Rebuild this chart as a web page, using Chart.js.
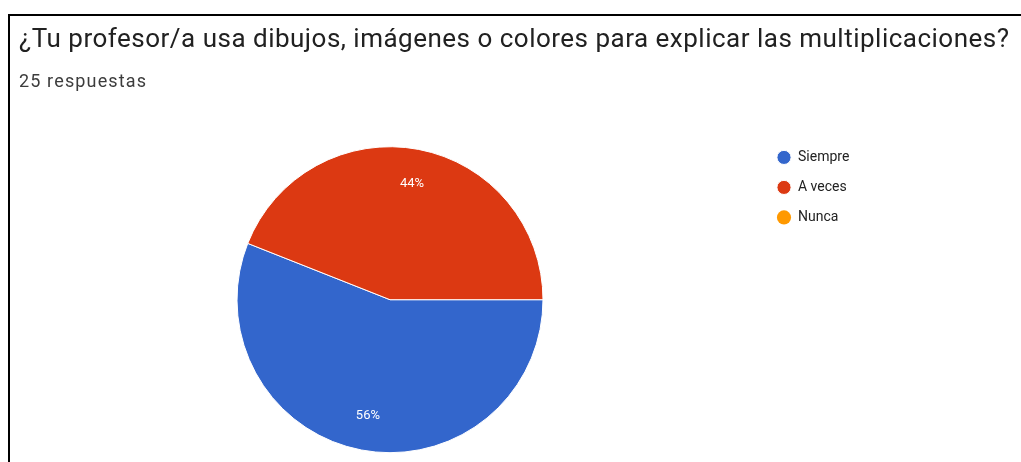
<!DOCTYPE html>
<html>
<head>
<meta charset="utf-8">
<script src="https://cdn.jsdelivr.net/npm/chart.js@4"></script>
<style>
    html, body { margin: 0; padding: 0; background: #fff; overflow: hidden; }
    #frame { position: absolute; left: 8px; top: 14px; width: 1100px; height: 600px; border: 2px solid #000; }
    #wrap { position: absolute; left: 0; top: 0; width: 1021px; height: 470px; }
</style>
</head>
<body>
<div id="frame"></div>
<div id="wrap"><canvas id="pieChart"></canvas></div>
<script>
var titleText = "¿Tu profesor/a usa dibujos, imágenes o colores para explicar las multiplicaciones?";
var subtitleText = "25 respuestas";
var labels = ["Siempre", "A veces", "Nunca"];
var counts = [14, 11, 0];
var colors = ["#3366cc", "#dc3912", "#ff9900"];

// percent labels inside the slices
var sliceLabels = {
    id: "sliceLabels",
    afterDatasetsDraw: function (chart) {
        var ctx = chart.ctx;
        var meta = chart.getDatasetMeta(0);
        var total = counts.reduce(function (a, b) { return a + b; }, 0);
        ctx.save();
        ctx.fillStyle = "#ffffff";
        ctx.font = "13px Roboto";
        ctx.textAlign = "center";
        ctx.textBaseline = "middle";
        meta.data.forEach(function (arc, i) {
            if (!counts[i]) return;
            var p = arc.getProps(["x", "y", "startAngle", "endAngle", "outerRadius"], true);
            var mid = (p.startAngle + p.endAngle) / 2;
            var r = p.outerRadius * 0.77;
            var pct = Math.round(counts[i] / total * 100) + "%";
            ctx.fillText(pct, p.x + Math.cos(mid) * r, p.y + Math.sin(mid) * r);
        });
        ctx.restore();
    },
};

var pie = document.getElementById("pieChart").getContext("2d");

var pieChart = new Chart(pie, {
    type: "pie",
    data: {
        labels: labels,
        datasets: [
            {
                data: counts,
                backgroundColor: colors,
                borderColor: "#ffffff",
                borderWidth: [1, 1, 0],
                radius: 153,
            },
        ],
    },
    options: {
        responsive: true,
        maintainAspectRatio: false,
        animation: false,
        rotation: 90,
        layout: {
            padding: { left: 19, right: 0, top: 0, bottom: 5 },
        },
        plugins: {
            title: {
                display: true,
                text: titleText,
                align: "start",
                color: "#212121",
                font: { family: "Roboto", size: 26, weight: "normal" },
                padding: { top: 24.4, bottom: 0 },
            },
            subtitle: {
                display: true,
                text: subtitleText,
                align: "start",
                color: "#3c3c3c",
                font: { family: "Roboto", size: 18 },
                padding: { top: 16.5, bottom: 40.7 },
            },
            legend: {
                position: "right",
                align: "start",
                fullSize: false,
                labels: {
                    usePointStyle: true,
                    pointStyle: "circle",
                    boxWidth: 14,
                    boxHeight: 10,
                    padding: 16,
                    color: "#222222",
                    font: { family: "Roboto", size: 14 },
                },
            },
            tooltip: { enabled: false },
        },
    },
    plugins: [sliceLabels],
});

// legend column starts at x=761, so the pie area ends there
var legendFit = pieChart.legend.fit;
pieChart.legend.fit = function () {
    legendFit.apply(this, arguments);
    this.width = 260;
};

// the screenshot's heading text is wider than plain Roboto: track it out to the width seen there
var targetWidth = {};
targetWidth[titleText] = 990;
targetWidth[subtitleText] = 127;
pieChart.boxes.forEach(function (box) {
    var want = box.options && targetWidth[box.options.text];
    if (!want) return;
    var draw = box.draw;
    box.draw = function () {
        var ctx = this.ctx;
        var text = this.options.text;
        ctx.save();
        ctx.font = Chart.helpers.toFont(this.options.font).string;
        ctx.letterSpacing = "0px";
        var natural = ctx.measureText(text).width;
        ctx.restore();
        ctx.save();
        ctx.letterSpacing = Math.max(0, (want - natural) / (text.length - 1)) + "px";
        draw.apply(this, arguments);
        ctx.restore();
    };
});
pieChart.update();
</script>
</body>
</html>
